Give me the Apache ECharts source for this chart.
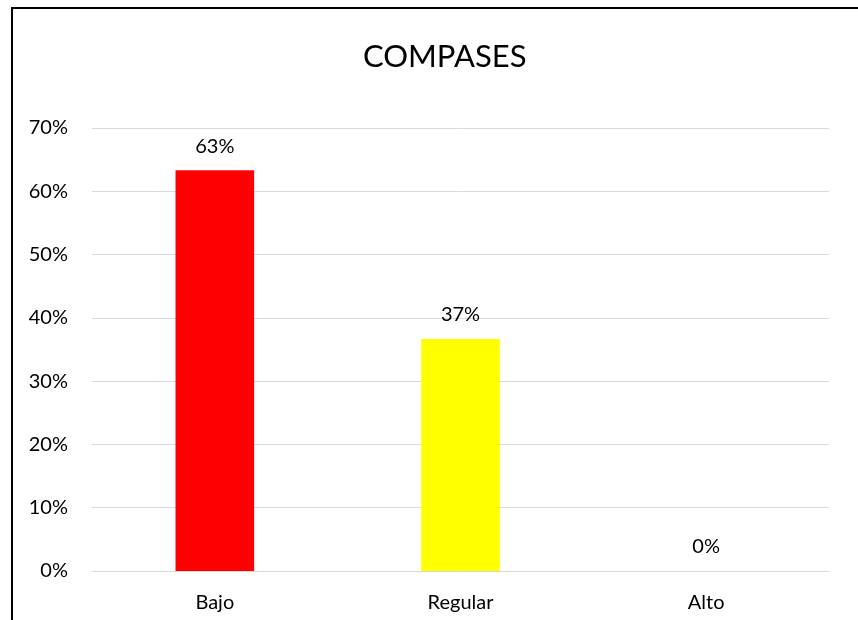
<!DOCTYPE html>
<html>
<head>
<meta charset="utf-8">
<script src="https://cdn.jsdelivr.net/npm/echarts@6/dist/echarts.min.js"></script>
<style>html,body{margin:0;padding:0;background:#fff}#c{width:858px;height:620px}</style>
</head>
<body>
<div id="c"></div>
<script>
var categories = ['Bajo', 'Regular', 'Alto'];
var values = [63.33, 36.67, 0];
var barColors = ['#FF0000', '#FFFF00', '#A5A5A5'];
var yTicks = [0, 10, 20, 30, 40, 50, 60, 70];

var chart = echarts.init(document.getElementById('c'), null, {renderer: 'canvas'});
var font = 'Lato, "Open Sans", "Liberation Sans", sans-serif';
chart.setOption({
  backgroundColor: '#fff',
  animation: false,
  title: {
    text: 'COMPASES',
    left: 358,
    top: 36,
    textStyle: {fontFamily: font, fontSize: 31, fontWeight: 'normal', color: '#000'}
  },
  graphic: [{
    type: 'rect',
    shape: {x: 12, y: 8, width: 900, height: 700},
    style: {fill: 'none', stroke: '#000', lineWidth: 2},
    silent: true
  }],
  grid: {left: 92, right: 29, top: 128, bottom: 49},
  xAxis: {
    type: 'category',
    data: categories,
    axisLine: {show: true, lineStyle: {color: '#d9d9d9', width: 1}},
    axisTick: {show: false},
    axisLabel: {fontFamily: font, fontSize: 20, color: '#000', margin: 22}
  },
  yAxis: {
    type: 'value',
    min: yTicks[0],
    max: yTicks[yTicks.length - 1],
    interval: 10,
    axisLine: {show: false},
    axisTick: {show: false},
    splitLine: {lineStyle: {color: '#d9d9d9', width: 1}},
    axisLabel: {fontFamily: font, fontSize: 20, color: '#000', margin: 24,
      formatter: function (v) { return v + '%'; }}
  },
  series: [{
    type: 'bar',
    barWidth: '32%',
    data: values.map(function (v, i) { return {value: v, itemStyle: {color: barColors[i]}}; }),
    label: {
      show: true,
      position: 'top',
      distance: 14,
      fontFamily: font,
      fontSize: 20,
      color: '#000',
      formatter: function (p) { return Math.round(p.value) + '%'; }
    }
  }]
});
</script>
</body>
</html>
